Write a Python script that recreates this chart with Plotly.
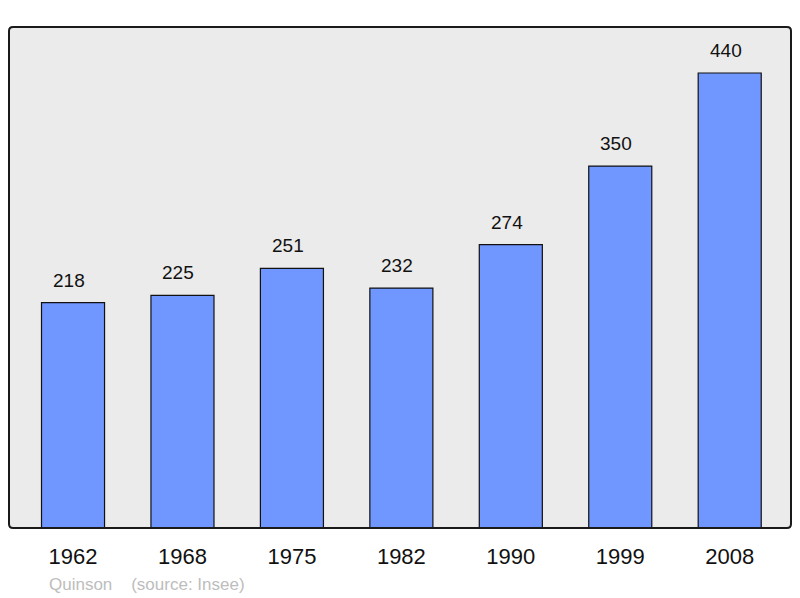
import plotly.graph_objects as go

years = ["1962", "1968", "1975", "1982", "1990", "1999", "2008"]
population = [218, 225, 251, 232, 274, 350, 440]
source_text = "Quinson    (source: Insee)"

fig = go.Figure()
fig.add_trace(go.Bar(
    x=list(range(len(years))), y=population,
    width=0.576,
    marker=dict(color="#7097ff", line=dict(color="#111111", width=1.2)),
    hoverinfo="skip",
))

for i, v in enumerate(population):
    fig.add_annotation(x=i, y=v, text=str(v), showarrow=False,
                       yanchor="bottom", yshift=10, xshift=-4,
                       font=dict(family="Liberation Sans", size=19, color="#111111"))

fig.add_annotation(xref="paper", yref="paper", x=(47 - 9) / 782, y=-(584 - 528) / 501,
                   xanchor="left", yanchor="middle", text=source_text, showarrow=False,
                   font=dict(family="Liberation Sans", size=17, color="#bdbdbd"))

# rounded border of plot area
rx, ry = 4 / 782, 4 / 501
path = (f"M {rx},0 L {1-rx},0 Q 1,0 1,{ry} L 1,{1-ry} Q 1,1 {1-rx},1 "
        f"L {rx},1 Q 0,1 0,{1-ry} L 0,{ry} Q 0,0 {rx},0 Z")
fig.add_shape(type="path", xref="paper", yref="paper", path=path,
              line=dict(color="#1a1a1a", width=2), layer="above")

fig.update_layout(
    width=784, height=590,
    margin=dict(l=1, r=1, t=19, b=70),
    paper_bgcolor="white", plot_bgcolor="#ebebeb",
    showlegend=False,
    font=dict(family="Liberation Sans"),
    xaxis=dict(range=[-0.585, 6.56], tickmode="array",
               tickvals=list(range(len(years))), ticktext=years,
               showgrid=False, zeroline=False, ticks="", showline=False,
               tickfont=dict(size=22, color="#111111"), ticklabelstandoff=13),
    yaxis=dict(range=[0, 484.5], showgrid=False, zeroline=False,
               showticklabels=False, ticks="", showline=False),
)

fig.write_html("out.html")
